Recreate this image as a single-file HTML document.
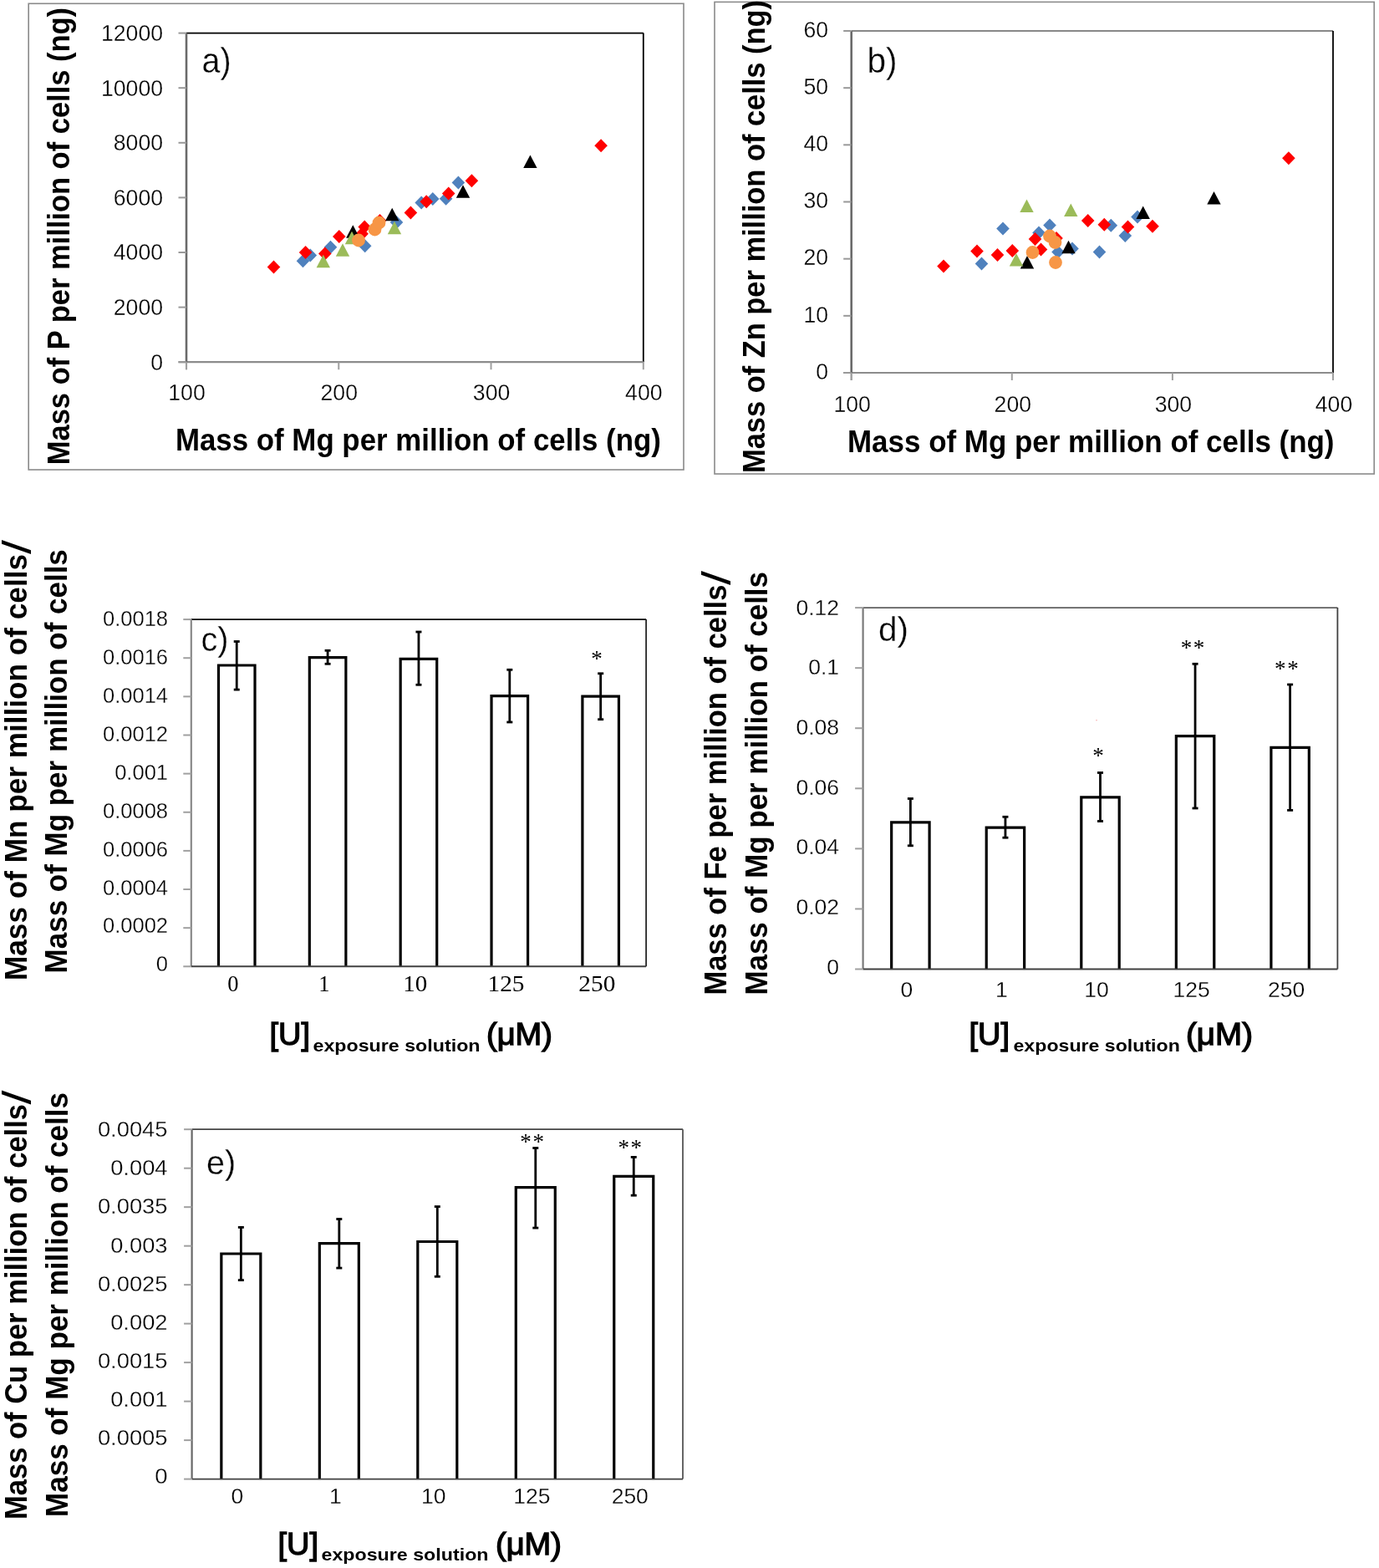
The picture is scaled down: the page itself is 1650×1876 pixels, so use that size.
<!DOCTYPE html>
<html><head><meta charset="utf-8"><title>Figure</title>
<style>html,body{margin:0;padding:0;background:#fff;}svg{display:block;}.t{stroke:#fff;stroke-width:0.3px;}.sb{stroke:#000;stroke-width:1.3px;}</style>
</head><body>
<svg width="1650" height="1876" viewBox="0 0 1650 1876" font-family="'Liberation Sans', Arial, sans-serif">
<rect x="0" y="0" width="1650" height="1876" fill="#fff"/>
<rect x="34.2" y="4.3" width="783.8" height="557.7" fill="#fff" stroke="#8a8a8a" stroke-width="1.6"/>
<line x1="223" y1="39.6" x2="769.8" y2="39.6" stroke="#000" stroke-width="1.7"/>
<line x1="769.8" y1="39.6" x2="769.8" y2="433.2" stroke="#000" stroke-width="1.8"/>
<path d="M362.5 304.3L370.3 312.3L362.5 320.3L354.7 312.3Z" fill="#4F81BD"/>
<path d="M371.3 297.6L379.1 305.6L371.3 313.6L363.5 305.6Z" fill="#4F81BD"/>
<path d="M395.5 287.8L403.3 295.8L395.5 303.8L387.7 295.8Z" fill="#4F81BD"/>
<path d="M436.7 286.2L444.5 294.2L436.7 302.2L428.9 294.2Z" fill="#4F81BD"/>
<path d="M474.5 258L482.3 266L474.5 274L466.7 266Z" fill="#4F81BD"/>
<path d="M504.2 234.4L512 242.4L504.2 250.4L496.4 242.4Z" fill="#4F81BD"/>
<path d="M517.8 230L525.6 238L517.8 246L510 238Z" fill="#4F81BD"/>
<path d="M533.6 229.7L541.4 237.7L533.6 245.7L525.8 237.7Z" fill="#4F81BD"/>
<path d="M548.4 210.6L556.2 218.6L548.4 226.6L540.6 218.6Z" fill="#4F81BD"/>
<path d="M327.5 311.5L335.3 319.5L327.5 327.5L319.7 319.5Z" fill="#FF0000"/>
<path d="M365.6 294L373.4 302L365.6 310L357.8 302Z" fill="#FF0000"/>
<path d="M388.8 295.5L396.6 303.5L388.8 311.5L381 303.5Z" fill="#FF0000"/>
<path d="M405.8 274.9L413.6 282.9L405.8 290.9L398 282.9Z" fill="#FF0000"/>
<path d="M433.1 271.8L440.9 279.8L433.1 287.8L425.3 279.8Z" fill="#FF0000"/>
<path d="M436.2 263.6L444 271.6L436.2 279.6L428.4 271.6Z" fill="#FF0000"/>
<path d="M454.5 256L462.3 264L454.5 272L446.7 264Z" fill="#FF0000"/>
<path d="M491.4 246.4L499.2 254.4L491.4 262.4L483.6 254.4Z" fill="#FF0000"/>
<path d="M510.2 233.3L518 241.3L510.2 249.3L502.4 241.3Z" fill="#FF0000"/>
<path d="M536.7 223.5L544.5 231.5L536.7 239.5L528.9 231.5Z" fill="#FF0000"/>
<path d="M564.4 208.2L572.2 216.2L564.4 224.2L556.6 216.2Z" fill="#FF0000"/>
<path d="M719.1 166.3L726.9 174.3L719.1 182.3L711.3 174.3Z" fill="#FF0000"/>
<path d="M422.3 269.3L430.5 284.7L414.1 284.7Z" fill="#000000"/>
<path d="M469.2 248.8L477.4 264.2L461 264.2Z" fill="#000000"/>
<path d="M554 221.3L562.2 236.7L545.8 236.7Z" fill="#000000"/>
<path d="M634.4 185.6L642.6 201L626.2 201Z" fill="#000000"/>
<path d="M386.8 304.8L395 320.2L378.6 320.2Z" fill="#9BBB59"/>
<path d="M410 291.3L418.2 306.7L401.8 306.7Z" fill="#9BBB59"/>
<path d="M421 276.8L429.2 292.2L412.8 292.2Z" fill="#9BBB59"/>
<path d="M472 264.8L480.2 280.2L463.8 280.2Z" fill="#9BBB59"/>
<circle cx="429" cy="287.5" r="7.9" fill="#F79646"/>
<circle cx="448.5" cy="274.5" r="7.9" fill="#F79646"/>
<circle cx="453.5" cy="266.5" r="7.9" fill="#F79646"/>
<line x1="223" y1="433.2" x2="223" y2="442.2" stroke="#a8a8a8" stroke-width="2.2"/>
<line x1="213.5" y1="433.2" x2="769.8" y2="433.2" stroke="#8c8c8c" stroke-width="2.2"/>
<line x1="223" y1="39.6" x2="223" y2="433.2" stroke="#6a6a6a" stroke-width="2.6"/>
<line x1="213.5" y1="433.2" x2="223" y2="433.2" stroke="#999" stroke-width="2"/>
<text x="195" y="442.6" font-size="27.5" class="t" text-anchor="end" textLength="14.8" lengthAdjust="spacingAndGlyphs">0</text>
<line x1="213.5" y1="367.6" x2="223" y2="367.6" stroke="#999" stroke-width="2"/>
<text x="195" y="377" font-size="27.5" class="t" text-anchor="end" textLength="59.2" lengthAdjust="spacingAndGlyphs">2000</text>
<line x1="213.5" y1="302" x2="223" y2="302" stroke="#999" stroke-width="2"/>
<text x="195" y="311.4" font-size="27.5" class="t" text-anchor="end" textLength="59.2" lengthAdjust="spacingAndGlyphs">4000</text>
<line x1="213.5" y1="236.4" x2="223" y2="236.4" stroke="#999" stroke-width="2"/>
<text x="195" y="245.8" font-size="27.5" class="t" text-anchor="end" textLength="59.2" lengthAdjust="spacingAndGlyphs">6000</text>
<line x1="213.5" y1="170.8" x2="223" y2="170.8" stroke="#999" stroke-width="2"/>
<text x="195" y="180.2" font-size="27.5" class="t" text-anchor="end" textLength="59.2" lengthAdjust="spacingAndGlyphs">8000</text>
<line x1="213.5" y1="105.2" x2="223" y2="105.2" stroke="#999" stroke-width="2"/>
<text x="195" y="114.6" font-size="27.5" class="t" text-anchor="end" textLength="74" lengthAdjust="spacingAndGlyphs">10000</text>
<line x1="213.5" y1="39.6" x2="223" y2="39.6" stroke="#999" stroke-width="2"/>
<text x="195" y="49" font-size="27.5" class="t" text-anchor="end" textLength="74" lengthAdjust="spacingAndGlyphs">12000</text>
<line x1="223" y1="433.2" x2="223" y2="442.2" stroke="#a0a0a0" stroke-width="2"/>
<text x="223.5" y="479.3" font-size="27.5" class="t" text-anchor="middle" textLength="44.4" lengthAdjust="spacingAndGlyphs">100</text>
<line x1="405.27" y1="433.2" x2="405.27" y2="442.2" stroke="#a0a0a0" stroke-width="2"/>
<text x="405.77" y="479.3" font-size="27.5" class="t" text-anchor="middle" textLength="44.4" lengthAdjust="spacingAndGlyphs">200</text>
<line x1="587.53" y1="433.2" x2="587.53" y2="442.2" stroke="#a0a0a0" stroke-width="2"/>
<text x="588.03" y="479.3" font-size="27.5" class="t" text-anchor="middle" textLength="44.4" lengthAdjust="spacingAndGlyphs">300</text>
<line x1="769.8" y1="433.2" x2="769.8" y2="442.2" stroke="#a0a0a0" stroke-width="2"/>
<text x="770.3" y="479.3" font-size="27.5" class="t" text-anchor="middle" textLength="44.4" lengthAdjust="spacingAndGlyphs">400</text>
<text x="241.5" y="86.5" font-size="42" class="t" textLength="35" lengthAdjust="spacingAndGlyphs">a)</text>
<text x="209.9" y="539" font-size="36" font-weight="bold" textLength="581" lengthAdjust="spacingAndGlyphs">Mass of Mg per million of cells (ng)</text>
<text transform="translate(82.5 556.2) rotate(-90)" x="0" y="0" font-size="37.5" font-weight="bold" textLength="547.3" lengthAdjust="spacingAndGlyphs">Mass of P per million of cells (ng)</text>
<rect x="855" y="2.4" width="789.2" height="564.6" fill="#fff" stroke="#8a8a8a" stroke-width="1.6"/>
<line x1="1018.7" y1="37" x2="1595" y2="37" stroke="#606060" stroke-width="1.7"/>
<line x1="1595" y1="37" x2="1595" y2="446" stroke="#000" stroke-width="1.8"/>
<path d="M1174.5 307.5L1182.3 315.5L1174.5 323.5L1166.7 315.5Z" fill="#4F81BD"/>
<path d="M1200 265.5L1207.8 273.5L1200 281.5L1192.2 273.5Z" fill="#4F81BD"/>
<path d="M1243 270.5L1250.8 278.5L1243 286.5L1235.2 278.5Z" fill="#4F81BD"/>
<path d="M1256 261.5L1263.8 269.5L1256 277.5L1248.2 269.5Z" fill="#4F81BD"/>
<path d="M1266 293.5L1273.8 301.5L1266 309.5L1258.2 301.5Z" fill="#4F81BD"/>
<path d="M1283 289.5L1290.8 297.5L1283 305.5L1275.2 297.5Z" fill="#4F81BD"/>
<path d="M1315.5 293.5L1323.3 301.5L1315.5 309.5L1307.7 301.5Z" fill="#4F81BD"/>
<path d="M1329.3 261.7L1337.1 269.7L1329.3 277.7L1321.5 269.7Z" fill="#4F81BD"/>
<path d="M1346.3 274L1354.1 282L1346.3 290L1338.5 282Z" fill="#4F81BD"/>
<path d="M1361 251.5L1368.8 259.5L1361 267.5L1353.2 259.5Z" fill="#4F81BD"/>
<path d="M1129 310.5L1136.8 318.5L1129 326.5L1121.2 318.5Z" fill="#FF0000"/>
<path d="M1169 292.5L1176.8 300.5L1169 308.5L1161.2 300.5Z" fill="#FF0000"/>
<path d="M1193.5 297L1201.3 305L1193.5 313L1185.7 305Z" fill="#FF0000"/>
<path d="M1211.3 292L1219.1 300L1211.3 308L1203.5 300Z" fill="#FF0000"/>
<path d="M1238.5 278L1246.3 286L1238.5 294L1230.7 286Z" fill="#FF0000"/>
<path d="M1245.5 290.5L1253.3 298.5L1245.5 306.5L1237.7 298.5Z" fill="#FF0000"/>
<path d="M1264 277L1271.8 285L1264 293L1256.2 285Z" fill="#FF0000"/>
<path d="M1301.7 256L1309.5 264L1301.7 272L1293.9 264Z" fill="#FF0000"/>
<path d="M1321.3 260.7L1329.1 268.7L1321.3 276.7L1313.5 268.7Z" fill="#FF0000"/>
<path d="M1349.5 263.5L1357.3 271.5L1349.5 279.5L1341.7 271.5Z" fill="#FF0000"/>
<path d="M1379 262.8L1386.8 270.8L1379 278.8L1371.2 270.8Z" fill="#FF0000"/>
<path d="M1541.9 181.3L1549.7 189.3L1541.9 197.3L1534.1 189.3Z" fill="#FF0000"/>
<path d="M1229 306.1L1237.2 321.5L1220.8 321.5Z" fill="#000000"/>
<path d="M1278.5 287.8L1286.7 303.2L1270.3 303.2Z" fill="#000000"/>
<path d="M1367.7 246.6L1375.9 262L1359.5 262Z" fill="#000000"/>
<path d="M1452.5 229.1L1460.7 244.5L1444.3 244.5Z" fill="#000000"/>
<path d="M1228.5 238.6L1236.7 254L1220.3 254Z" fill="#9BBB59"/>
<path d="M1216 303.1L1224.2 318.5L1207.8 318.5Z" fill="#9BBB59"/>
<path d="M1281.3 243.6L1289.5 259L1273.1 259Z" fill="#9BBB59"/>
<circle cx="1235.5" cy="302" r="7.9" fill="#F79646"/>
<circle cx="1256" cy="282.5" r="7.9" fill="#F79646"/>
<circle cx="1262.5" cy="290" r="7.9" fill="#F79646"/>
<circle cx="1263" cy="314" r="7.9" fill="#F79646"/>
<line x1="1018.7" y1="446" x2="1018.7" y2="455" stroke="#a8a8a8" stroke-width="2.2"/>
<line x1="1009.2" y1="446" x2="1595" y2="446" stroke="#8c8c8c" stroke-width="2.2"/>
<line x1="1018.7" y1="37" x2="1018.7" y2="446" stroke="#6a6a6a" stroke-width="2.6"/>
<line x1="1009.2" y1="446" x2="1018.7" y2="446" stroke="#999" stroke-width="2"/>
<text x="991" y="453.8" font-size="27.5" class="t" text-anchor="end" textLength="14.8" lengthAdjust="spacingAndGlyphs">0</text>
<line x1="1009.2" y1="377.83" x2="1018.7" y2="377.83" stroke="#999" stroke-width="2"/>
<text x="991" y="385.63" font-size="27.5" class="t" text-anchor="end" textLength="29.6" lengthAdjust="spacingAndGlyphs">10</text>
<line x1="1009.2" y1="309.67" x2="1018.7" y2="309.67" stroke="#999" stroke-width="2"/>
<text x="991" y="317.47" font-size="27.5" class="t" text-anchor="end" textLength="29.6" lengthAdjust="spacingAndGlyphs">20</text>
<line x1="1009.2" y1="241.5" x2="1018.7" y2="241.5" stroke="#999" stroke-width="2"/>
<text x="991" y="249.3" font-size="27.5" class="t" text-anchor="end" textLength="29.6" lengthAdjust="spacingAndGlyphs">30</text>
<line x1="1009.2" y1="173.33" x2="1018.7" y2="173.33" stroke="#999" stroke-width="2"/>
<text x="991" y="181.13" font-size="27.5" class="t" text-anchor="end" textLength="29.6" lengthAdjust="spacingAndGlyphs">40</text>
<line x1="1009.2" y1="105.17" x2="1018.7" y2="105.17" stroke="#999" stroke-width="2"/>
<text x="991" y="112.97" font-size="27.5" class="t" text-anchor="end" textLength="29.6" lengthAdjust="spacingAndGlyphs">50</text>
<line x1="1009.2" y1="37" x2="1018.7" y2="37" stroke="#999" stroke-width="2"/>
<text x="991" y="44.8" font-size="27.5" class="t" text-anchor="end" textLength="29.6" lengthAdjust="spacingAndGlyphs">60</text>
<line x1="1018.7" y1="446" x2="1018.7" y2="455" stroke="#a0a0a0" stroke-width="2"/>
<text x="1019.7" y="492.7" font-size="27.5" class="t" text-anchor="middle" textLength="44.4" lengthAdjust="spacingAndGlyphs">100</text>
<line x1="1210.8" y1="446" x2="1210.8" y2="455" stroke="#a0a0a0" stroke-width="2"/>
<text x="1211.8" y="492.7" font-size="27.5" class="t" text-anchor="middle" textLength="44.4" lengthAdjust="spacingAndGlyphs">200</text>
<line x1="1402.9" y1="446" x2="1402.9" y2="455" stroke="#a0a0a0" stroke-width="2"/>
<text x="1403.9" y="492.7" font-size="27.5" class="t" text-anchor="middle" textLength="44.4" lengthAdjust="spacingAndGlyphs">300</text>
<line x1="1595" y1="446" x2="1595" y2="455" stroke="#a0a0a0" stroke-width="2"/>
<text x="1596" y="492.7" font-size="27.5" class="t" text-anchor="middle" textLength="44.4" lengthAdjust="spacingAndGlyphs">400</text>
<text x="1037.5" y="86.7" font-size="42" class="t" textLength="36" lengthAdjust="spacingAndGlyphs">b)</text>
<text x="1014" y="540.5" font-size="36" font-weight="bold" textLength="582.5" lengthAdjust="spacingAndGlyphs">Mass of Mg per million of cells (ng)</text>
<text transform="translate(915 566) rotate(-90)" x="0" y="0" font-size="37.5" font-weight="bold" textLength="566" lengthAdjust="spacingAndGlyphs">Mass of Zn per million of cells (ng)</text>
<line x1="228.8" y1="741.1" x2="773.1" y2="741.1" stroke="#000" stroke-width="1.8"/>
<line x1="773.1" y1="741.1" x2="773.1" y2="1156.3" stroke="#262626" stroke-width="1.8"/>
<path d="M261.46 1156.3V796H305V1156.3" fill="none" stroke="#000" stroke-width="3.2" stroke-linejoin="miter"/>
<line x1="283.23" y1="767.5" x2="283.23" y2="825.1" stroke="#000" stroke-width="2.8"/>
<line x1="279.73" y1="767.5" x2="286.73" y2="767.5" stroke="#000" stroke-width="2.8"/>
<line x1="279.73" y1="825.1" x2="286.73" y2="825.1" stroke="#000" stroke-width="2.8"/>
<path d="M370.32 1156.3V786.7H413.86V1156.3" fill="none" stroke="#000" stroke-width="3.2" stroke-linejoin="miter"/>
<line x1="392.09" y1="778.3" x2="392.09" y2="794.3" stroke="#000" stroke-width="2.8"/>
<line x1="388.59" y1="778.3" x2="395.59" y2="778.3" stroke="#000" stroke-width="2.8"/>
<line x1="388.59" y1="794.3" x2="395.59" y2="794.3" stroke="#000" stroke-width="2.8"/>
<path d="M479.18 1156.3V788.3H522.72V1156.3" fill="none" stroke="#000" stroke-width="3.2" stroke-linejoin="miter"/>
<line x1="500.95" y1="756" x2="500.95" y2="819.3" stroke="#000" stroke-width="2.8"/>
<line x1="497.45" y1="756" x2="504.45" y2="756" stroke="#000" stroke-width="2.8"/>
<line x1="497.45" y1="819.3" x2="504.45" y2="819.3" stroke="#000" stroke-width="2.8"/>
<path d="M588.04 1156.3V832.7H631.58V1156.3" fill="none" stroke="#000" stroke-width="3.2" stroke-linejoin="miter"/>
<line x1="609.81" y1="801.3" x2="609.81" y2="864" stroke="#000" stroke-width="2.8"/>
<line x1="606.31" y1="801.3" x2="613.31" y2="801.3" stroke="#000" stroke-width="2.8"/>
<line x1="606.31" y1="864" x2="613.31" y2="864" stroke="#000" stroke-width="2.8"/>
<path d="M696.9 1156.3V833.2H740.44V1156.3" fill="none" stroke="#000" stroke-width="3.2" stroke-linejoin="miter"/>
<line x1="718.67" y1="805.8" x2="718.67" y2="860.7" stroke="#000" stroke-width="2.8"/>
<line x1="715.17" y1="805.8" x2="722.17" y2="805.8" stroke="#000" stroke-width="2.8"/>
<line x1="715.17" y1="860.7" x2="722.17" y2="860.7" stroke="#000" stroke-width="2.8"/>
<line x1="228.8" y1="741.1" x2="228.8" y2="1156.3" stroke="#888" stroke-width="2.2"/>
<line x1="228.8" y1="1156.3" x2="773.1" y2="1156.3" stroke="#404040" stroke-width="1.9"/>
<line x1="219.3" y1="1156.3" x2="228.8" y2="1156.3" stroke="#a0a0a0" stroke-width="2"/>
<text x="201" y="1162.4" font-size="25.5" class="t" text-anchor="end">0</text>
<line x1="219.3" y1="1110.17" x2="228.8" y2="1110.17" stroke="#a0a0a0" stroke-width="2"/>
<text x="201" y="1116.46" font-size="25.5" class="t" text-anchor="end">0.0002</text>
<line x1="219.3" y1="1064.03" x2="228.8" y2="1064.03" stroke="#a0a0a0" stroke-width="2"/>
<text x="201" y="1070.51" font-size="25.5" class="t" text-anchor="end">0.0004</text>
<line x1="219.3" y1="1017.9" x2="228.8" y2="1017.9" stroke="#a0a0a0" stroke-width="2"/>
<text x="201" y="1024.57" font-size="25.5" class="t" text-anchor="end">0.0006</text>
<line x1="219.3" y1="971.77" x2="228.8" y2="971.77" stroke="#a0a0a0" stroke-width="2"/>
<text x="201" y="978.62" font-size="25.5" class="t" text-anchor="end">0.0008</text>
<line x1="219.3" y1="925.63" x2="228.8" y2="925.63" stroke="#a0a0a0" stroke-width="2"/>
<text x="201" y="932.68" font-size="25.5" class="t" text-anchor="end">0.001</text>
<line x1="219.3" y1="879.5" x2="228.8" y2="879.5" stroke="#a0a0a0" stroke-width="2"/>
<text x="201" y="886.73" font-size="25.5" class="t" text-anchor="end">0.0012</text>
<line x1="219.3" y1="833.37" x2="228.8" y2="833.37" stroke="#a0a0a0" stroke-width="2"/>
<text x="201" y="840.79" font-size="25.5" class="t" text-anchor="end">0.0014</text>
<line x1="219.3" y1="787.23" x2="228.8" y2="787.23" stroke="#a0a0a0" stroke-width="2"/>
<text x="201" y="794.84" font-size="25.5" class="t" text-anchor="end">0.0016</text>
<line x1="219.3" y1="741.1" x2="228.8" y2="741.1" stroke="#a0a0a0" stroke-width="2"/>
<text x="201" y="748.9" font-size="25.5" class="t" text-anchor="end">0.0018</text>
<text x="278.93" y="1186" font-size="26.5" font-family="'Liberation Serif', 'Times New Roman', serif" text-anchor="middle">0</text>
<text x="387.79" y="1186" font-size="26.5" font-family="'Liberation Serif', 'Times New Roman', serif" text-anchor="middle">1</text>
<text x="496.65" y="1186" font-size="26.5" font-family="'Liberation Serif', 'Times New Roman', serif" text-anchor="middle" textLength="29" lengthAdjust="spacingAndGlyphs">10</text>
<text x="605.51" y="1186" font-size="26.5" font-family="'Liberation Serif', 'Times New Roman', serif" text-anchor="middle" textLength="44" lengthAdjust="spacingAndGlyphs">125</text>
<text x="714.37" y="1186" font-size="26.5" font-family="'Liberation Serif', 'Times New Roman', serif" text-anchor="middle" textLength="44" lengthAdjust="spacingAndGlyphs">250</text>
<text x="713.9" y="797.26" font-size="27" font-family="'Liberation Serif', 'Times New Roman', serif" text-anchor="middle">*</text>
<text x="240.5" y="778.5" font-size="41" class="t" textLength="33" lengthAdjust="spacingAndGlyphs">c)</text>
<text transform="translate(31.8 1173) rotate(-90)" x="0" y="0" font-size="37.5" font-weight="bold" textLength="510" lengthAdjust="spacingAndGlyphs">Mass of Mn per million of cells</text>
<text transform="translate(36.5 663) rotate(-90)" x="0" y="0" font-size="48" textLength="17" lengthAdjust="spacingAndGlyphs">/</text>
<text transform="translate(80.4 1164.4) rotate(-90)" x="0" y="0" font-size="37.5" font-weight="bold" textLength="507.2" lengthAdjust="spacingAndGlyphs">Mass of Mg per million of cells</text>
<text x="322.5" y="1249.5" font-size="36" class="sb" textLength="48.5" lengthAdjust="spacingAndGlyphs">[U]</text>
<text x="374.5" y="1257.5" font-size="21" font-weight="bold" textLength="200" lengthAdjust="spacingAndGlyphs">exposure solution</text>
<text x="582" y="1249.5" font-size="36" class="sb" textLength="79" lengthAdjust="spacingAndGlyphs">(μM)</text>
<line x1="1032.6" y1="727.1" x2="1600.4" y2="727.1" stroke="#606060" stroke-width="1.8"/>
<line x1="1600.4" y1="727.1" x2="1600.4" y2="1159.5" stroke="#404040" stroke-width="1.8"/>
<path d="M1066.67 1159.5V983.9H1112.09V1159.5" fill="none" stroke="#000" stroke-width="3.2" stroke-linejoin="miter"/>
<line x1="1089.38" y1="955.5" x2="1089.38" y2="1011.8" stroke="#000" stroke-width="2.8"/>
<line x1="1085.88" y1="955.5" x2="1092.88" y2="955.5" stroke="#000" stroke-width="2.8"/>
<line x1="1085.88" y1="1011.8" x2="1092.88" y2="1011.8" stroke="#000" stroke-width="2.8"/>
<path d="M1180.23 1159.5V990.1H1225.65V1159.5" fill="none" stroke="#000" stroke-width="3.2" stroke-linejoin="miter"/>
<line x1="1202.94" y1="977.3" x2="1202.94" y2="1002.2" stroke="#000" stroke-width="2.8"/>
<line x1="1199.44" y1="977.3" x2="1206.44" y2="977.3" stroke="#000" stroke-width="2.8"/>
<line x1="1199.44" y1="1002.2" x2="1206.44" y2="1002.2" stroke="#000" stroke-width="2.8"/>
<path d="M1293.79 1159.5V953.8H1339.21V1159.5" fill="none" stroke="#000" stroke-width="3.2" stroke-linejoin="miter"/>
<line x1="1316.5" y1="924.5" x2="1316.5" y2="982.5" stroke="#000" stroke-width="2.8"/>
<line x1="1313" y1="924.5" x2="1320" y2="924.5" stroke="#000" stroke-width="2.8"/>
<line x1="1313" y1="982.5" x2="1320" y2="982.5" stroke="#000" stroke-width="2.8"/>
<path d="M1407.35 1159.5V880.6H1452.77V1159.5" fill="none" stroke="#000" stroke-width="3.2" stroke-linejoin="miter"/>
<line x1="1430.06" y1="794.3" x2="1430.06" y2="967" stroke="#000" stroke-width="2.8"/>
<line x1="1426.56" y1="794.3" x2="1433.56" y2="794.3" stroke="#000" stroke-width="2.8"/>
<line x1="1426.56" y1="967" x2="1433.56" y2="967" stroke="#000" stroke-width="2.8"/>
<path d="M1520.91 1159.5V894.4H1566.33V1159.5" fill="none" stroke="#000" stroke-width="3.2" stroke-linejoin="miter"/>
<line x1="1543.62" y1="819" x2="1543.62" y2="969.4" stroke="#000" stroke-width="2.8"/>
<line x1="1540.12" y1="819" x2="1547.12" y2="819" stroke="#000" stroke-width="2.8"/>
<line x1="1540.12" y1="969.4" x2="1547.12" y2="969.4" stroke="#000" stroke-width="2.8"/>
<line x1="1032.6" y1="727.1" x2="1032.6" y2="1159.5" stroke="#7a7a7a" stroke-width="2.2"/>
<line x1="1032.6" y1="1159.5" x2="1600.4" y2="1159.5" stroke="#404040" stroke-width="1.9"/>
<line x1="1023.1" y1="1159.5" x2="1032.6" y2="1159.5" stroke="#a0a0a0" stroke-width="2"/>
<text x="1004" y="1165.7" font-size="26.5" class="t" text-anchor="end">0</text>
<line x1="1023.1" y1="1087.43" x2="1032.6" y2="1087.43" stroke="#a0a0a0" stroke-width="2"/>
<text x="1004" y="1094.02" font-size="26.5" class="t" text-anchor="end">0.02</text>
<line x1="1023.1" y1="1015.37" x2="1032.6" y2="1015.37" stroke="#a0a0a0" stroke-width="2"/>
<text x="1004" y="1022.33" font-size="26.5" class="t" text-anchor="end">0.04</text>
<line x1="1023.1" y1="943.3" x2="1032.6" y2="943.3" stroke="#a0a0a0" stroke-width="2"/>
<text x="1004" y="950.65" font-size="26.5" class="t" text-anchor="end">0.06</text>
<line x1="1023.1" y1="871.23" x2="1032.6" y2="871.23" stroke="#a0a0a0" stroke-width="2"/>
<text x="1004" y="878.97" font-size="26.5" class="t" text-anchor="end">0.08</text>
<line x1="1023.1" y1="799.17" x2="1032.6" y2="799.17" stroke="#a0a0a0" stroke-width="2"/>
<text x="1004" y="807.28" font-size="26.5" class="t" text-anchor="end">0.1</text>
<line x1="1023.1" y1="727.1" x2="1032.6" y2="727.1" stroke="#a0a0a0" stroke-width="2"/>
<text x="1004" y="735.6" font-size="26.5" class="t" text-anchor="end">0.12</text>
<text x="1084.88" y="1193" font-size="26.5" class="t" text-anchor="middle">0</text>
<text x="1198.44" y="1193" font-size="26.5" class="t" text-anchor="middle">1</text>
<text x="1312" y="1193" font-size="26.5" class="t" text-anchor="middle">10</text>
<text x="1425.56" y="1193" font-size="26.5" class="t" text-anchor="middle">125</text>
<text x="1539.12" y="1193" font-size="26.5" class="t" text-anchor="middle">250</text>
<text x="1314" y="912.96" font-size="27" font-family="'Liberation Serif', 'Times New Roman', serif" text-anchor="middle">*</text>
<text x="1419.5" y="783.56" font-size="27" font-family="'Liberation Serif', 'Times New Roman', serif" text-anchor="middle">*</text>
<text x="1434.5" y="783.56" font-size="27" font-family="'Liberation Serif', 'Times New Roman', serif" text-anchor="middle">*</text>
<text x="1531.8" y="809.06" font-size="27" font-family="'Liberation Serif', 'Times New Roman', serif" text-anchor="middle">*</text>
<text x="1547.1" y="809.06" font-size="27" font-family="'Liberation Serif', 'Times New Roman', serif" text-anchor="middle">*</text>
<text x="1051" y="766.7" font-size="41" class="t" textLength="36" lengthAdjust="spacingAndGlyphs">d)</text>
<text transform="translate(869.3 1190.6) rotate(-90)" x="0" y="0" font-size="37.5" font-weight="bold" textLength="491" lengthAdjust="spacingAndGlyphs">Mass of Fe per million of cells</text>
<text transform="translate(874 700) rotate(-90)" x="0" y="0" font-size="48" textLength="17" lengthAdjust="spacingAndGlyphs">/</text>
<text transform="translate(918.4 1190.6) rotate(-90)" x="0" y="0" font-size="37.5" font-weight="bold" textLength="506.6" lengthAdjust="spacingAndGlyphs">Mass of Mg per million of cells</text>
<text x="1159.5" y="1249.5" font-size="36" class="sb" textLength="48.5" lengthAdjust="spacingAndGlyphs">[U]</text>
<text x="1212.5" y="1257.5" font-size="21" font-weight="bold" textLength="199.3" lengthAdjust="spacingAndGlyphs">exposure solution</text>
<text x="1419" y="1249.5" font-size="36" class="sb" textLength="80" lengthAdjust="spacingAndGlyphs">(μM)</text>
<circle cx="1312" cy="861.8" r="0.8" fill="#f7a8a8"/>
<line x1="229.6" y1="1351.2" x2="817" y2="1351.2" stroke="#444" stroke-width="1.8"/>
<line x1="817" y1="1351.2" x2="817" y2="1769.6" stroke="#555" stroke-width="1.8"/>
<path d="M264.84 1769.6V1500H311.84V1769.6" fill="none" stroke="#000" stroke-width="3.2" stroke-linejoin="miter"/>
<line x1="288.34" y1="1468.4" x2="288.34" y2="1531.6" stroke="#000" stroke-width="2.8"/>
<line x1="284.84" y1="1468.4" x2="291.84" y2="1468.4" stroke="#000" stroke-width="2.8"/>
<line x1="284.84" y1="1531.6" x2="291.84" y2="1531.6" stroke="#000" stroke-width="2.8"/>
<path d="M382.32 1769.6V1487.6H429.32V1769.6" fill="none" stroke="#000" stroke-width="3.2" stroke-linejoin="miter"/>
<line x1="405.82" y1="1458.5" x2="405.82" y2="1517.1" stroke="#000" stroke-width="2.8"/>
<line x1="402.32" y1="1458.5" x2="409.32" y2="1458.5" stroke="#000" stroke-width="2.8"/>
<line x1="402.32" y1="1517.1" x2="409.32" y2="1517.1" stroke="#000" stroke-width="2.8"/>
<path d="M499.8 1769.6V1485.5H546.8V1769.6" fill="none" stroke="#000" stroke-width="3.2" stroke-linejoin="miter"/>
<line x1="523.3" y1="1443.6" x2="523.3" y2="1527.3" stroke="#000" stroke-width="2.8"/>
<line x1="519.8" y1="1443.6" x2="526.8" y2="1443.6" stroke="#000" stroke-width="2.8"/>
<line x1="519.8" y1="1527.3" x2="526.8" y2="1527.3" stroke="#000" stroke-width="2.8"/>
<path d="M617.28 1769.6V1420.7H664.28V1769.6" fill="none" stroke="#000" stroke-width="3.2" stroke-linejoin="miter"/>
<line x1="640.78" y1="1373.5" x2="640.78" y2="1469.1" stroke="#000" stroke-width="2.8"/>
<line x1="637.28" y1="1373.5" x2="644.28" y2="1373.5" stroke="#000" stroke-width="2.8"/>
<line x1="637.28" y1="1469.1" x2="644.28" y2="1469.1" stroke="#000" stroke-width="2.8"/>
<path d="M734.76 1769.6V1407.3H781.76V1769.6" fill="none" stroke="#000" stroke-width="3.2" stroke-linejoin="miter"/>
<line x1="758.26" y1="1384.4" x2="758.26" y2="1430.2" stroke="#000" stroke-width="2.8"/>
<line x1="754.76" y1="1384.4" x2="761.76" y2="1384.4" stroke="#000" stroke-width="2.8"/>
<line x1="754.76" y1="1430.2" x2="761.76" y2="1430.2" stroke="#000" stroke-width="2.8"/>
<line x1="229.6" y1="1351.2" x2="229.6" y2="1769.6" stroke="#686868" stroke-width="2.2"/>
<line x1="229.6" y1="1769.6" x2="817" y2="1769.6" stroke="#404040" stroke-width="1.9"/>
<line x1="220.1" y1="1769.6" x2="229.6" y2="1769.6" stroke="#a0a0a0" stroke-width="2"/>
<text x="200.5" y="1775.2" font-size="25.5" class="t" text-anchor="end" textLength="15.3" lengthAdjust="spacingAndGlyphs">0</text>
<line x1="220.1" y1="1723.11" x2="229.6" y2="1723.11" stroke="#a0a0a0" stroke-width="2"/>
<text x="200.5" y="1729.09" font-size="25.5" class="t" text-anchor="end" textLength="83.6" lengthAdjust="spacingAndGlyphs">0.0005</text>
<line x1="220.1" y1="1676.62" x2="229.6" y2="1676.62" stroke="#a0a0a0" stroke-width="2"/>
<text x="200.5" y="1682.98" font-size="25.5" class="t" text-anchor="end" textLength="68.3" lengthAdjust="spacingAndGlyphs">0.001</text>
<line x1="220.1" y1="1630.13" x2="229.6" y2="1630.13" stroke="#a0a0a0" stroke-width="2"/>
<text x="200.5" y="1636.87" font-size="25.5" class="t" text-anchor="end" textLength="83.6" lengthAdjust="spacingAndGlyphs">0.0015</text>
<line x1="220.1" y1="1583.64" x2="229.6" y2="1583.64" stroke="#a0a0a0" stroke-width="2"/>
<text x="200.5" y="1590.76" font-size="25.5" class="t" text-anchor="end" textLength="68.3" lengthAdjust="spacingAndGlyphs">0.002</text>
<line x1="220.1" y1="1537.16" x2="229.6" y2="1537.16" stroke="#a0a0a0" stroke-width="2"/>
<text x="200.5" y="1544.64" font-size="25.5" class="t" text-anchor="end" textLength="83.6" lengthAdjust="spacingAndGlyphs">0.0025</text>
<line x1="220.1" y1="1490.67" x2="229.6" y2="1490.67" stroke="#a0a0a0" stroke-width="2"/>
<text x="200.5" y="1498.53" font-size="25.5" class="t" text-anchor="end" textLength="68.3" lengthAdjust="spacingAndGlyphs">0.003</text>
<line x1="220.1" y1="1444.18" x2="229.6" y2="1444.18" stroke="#a0a0a0" stroke-width="2"/>
<text x="200.5" y="1452.42" font-size="25.5" class="t" text-anchor="end" textLength="83.6" lengthAdjust="spacingAndGlyphs">0.0035</text>
<line x1="220.1" y1="1397.69" x2="229.6" y2="1397.69" stroke="#a0a0a0" stroke-width="2"/>
<text x="200.5" y="1406.31" font-size="25.5" class="t" text-anchor="end" textLength="68.3" lengthAdjust="spacingAndGlyphs">0.004</text>
<line x1="220.1" y1="1351.2" x2="229.6" y2="1351.2" stroke="#a0a0a0" stroke-width="2"/>
<text x="200.5" y="1360.2" font-size="25.5" class="t" text-anchor="end" textLength="83.6" lengthAdjust="spacingAndGlyphs">0.0045</text>
<text x="283.84" y="1799" font-size="26.5" class="t" text-anchor="middle">0</text>
<text x="401.32" y="1799" font-size="26.5" class="t" text-anchor="middle">1</text>
<text x="518.8" y="1799" font-size="26.5" class="t" text-anchor="middle">10</text>
<text x="636.28" y="1799" font-size="26.5" class="t" text-anchor="middle">125</text>
<text x="753.76" y="1799" font-size="26.5" class="t" text-anchor="middle">250</text>
<text x="628.9" y="1375.36" font-size="27" font-family="'Liberation Serif', 'Times New Roman', serif" text-anchor="middle">*</text>
<text x="644.2" y="1375.36" font-size="27" font-family="'Liberation Serif', 'Times New Roman', serif" text-anchor="middle">*</text>
<text x="746.2" y="1382.16" font-size="27" font-family="'Liberation Serif', 'Times New Roman', serif" text-anchor="middle">*</text>
<text x="761.2" y="1382.16" font-size="27" font-family="'Liberation Serif', 'Times New Roman', serif" text-anchor="middle">*</text>
<text x="247" y="1405" font-size="41" class="t" textLength="35" lengthAdjust="spacingAndGlyphs">e)</text>
<text transform="translate(32 1818) rotate(-90)" x="0" y="0" font-size="37.5" font-weight="bold" textLength="497" lengthAdjust="spacingAndGlyphs">Mass of Cu per million of cells</text>
<text transform="translate(37 1321.5) rotate(-90)" x="0" y="0" font-size="48" textLength="17" lengthAdjust="spacingAndGlyphs">/</text>
<text transform="translate(81 1815) rotate(-90)" x="0" y="0" font-size="37.5" font-weight="bold" textLength="508" lengthAdjust="spacingAndGlyphs">Mass of Mg per million of cells</text>
<text x="332.5" y="1860" font-size="36" class="sb" textLength="48.5" lengthAdjust="spacingAndGlyphs">[U]</text>
<text x="384.5" y="1867.3" font-size="21" font-weight="bold" textLength="200" lengthAdjust="spacingAndGlyphs">exposure solution</text>
<text x="593" y="1860" font-size="36" class="sb" textLength="79" lengthAdjust="spacingAndGlyphs">(μM)</text>
</svg>
</body></html>
